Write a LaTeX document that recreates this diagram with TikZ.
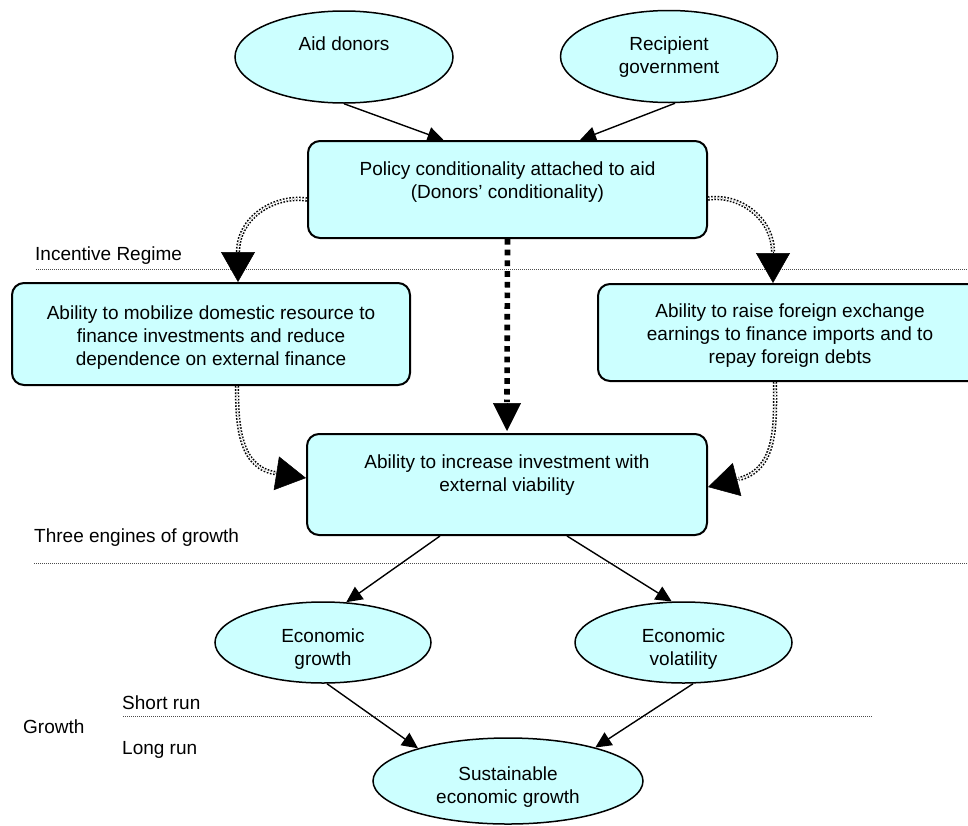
\documentclass[tikz,border=0pt]{standalone}
\usepackage{fontspec}
\setmainfont{Liberation Sans}
\usetikzlibrary{shapes.geometric,arrows.meta}
\definecolor{boxfill}{HTML}{CCFFFF}
\newcommand\liftx[2]{\raisebox{#1}[\height][\depth]{\begin{tabular}{@{}c@{}}#2\end{tabular}}}
\begin{document}
\begin{tikzpicture}[x=1pt,y=-1pt,
  every node/.style={font=\fontsize{19}{23}\selectfont},
  rbox/.style={draw, line width=2pt, fill=boxfill, rounded corners=12pt, inner sep=0pt},
  ell/.style={ellipse, draw, line width=1.5pt, fill=boxfill, inner sep=0pt},
  lbl/.style={anchor=west, inner sep=0pt},
  sepline/.style={line width=1pt, dash pattern=on 1pt off 1pt, black!70},
  arr/.style={line width=1.4pt, -{Triangle[length=16pt,width=15pt]}},
  dbl/.style={line width=1.5pt, double=white, double distance=1.4pt, dash pattern=on 1.6pt off 1.6pt},
  bigtip/.style={line width=0.5pt, -{Triangle[length=30pt,width=34pt]}},
  thickdash/.style={line width=5.6pt, dash pattern=on 5.7pt off 5pt},
]
\useasboundingbox (0,0) rectangle (968,825);

% separator lines
\draw[sepline] (36,269) -- (968,269);
\draw[sepline] (34,563) -- (968,563);
\draw[sepline] (123,716) -- (872,716);

% labels
\node[lbl] (lincent) at (35,256) {Incentive Regime};
\node[lbl] (lthree) at (34,538) {Three engines of growth};
\node[lbl] (lshort) at (122,703) {Short run};
\node[lbl] (lgrowth) at (23,727) {Growth};
\node[lbl] (llong) at (122,750) {Long run};

% nodes
\node[ell, minimum width=218pt, minimum height=92pt] (aid) at (344,57) {\liftx{11pt}{Aid donors}};
\node[ell, minimum width=217pt, minimum height=92pt] (rec) at (669,56.5) {\liftx{-1pt}{Recipient\\government}};
\node[rbox, minimum width=399pt, minimum height=97pt] (policy) at (507.5,189.5)
  {\liftx{7pt}{Policy conditionality attached to aid\\(Donors’ conditionality)}};
\node[rbox, minimum width=398pt, minimum height=102pt] (leftbox) at (211,334)
  {\liftx{-4pt}{Ability to mobilize domestic resource to\\finance investments and reduce\\dependence on external finance}};
\node[rbox, minimum width=384pt, minimum height=97pt] (rightbox) at (790,332.5)
  {\liftx{-3.5pt}{Ability to raise foreign exchange\\earnings to finance imports and to\\repay foreign debts}};
\node[rbox, minimum width=400pt, minimum height=101pt] (midbox) at (507,484.5)
  {\liftx{9pt}{Ability to increase investment with\\external viability}};
\node[ell, minimum width=216pt, minimum height=81pt] (eg) at (323,642.5) {\liftx{-6.5pt}{Economic\\growth}};
\node[ell, minimum width=217pt, minimum height=81pt] (ev) at (683.5,642.5) {\liftx{-6.5pt}{Economic\\volatility}};
\node[ell, minimum width=270pt, minimum height=86pt] (sus) at (508,781) {\liftx{-6.5pt}{Sustainable\\economic growth}};

% top arrows
\draw[arr] (aid.south) -- ([xshift=-64pt]policy.north);
\draw[arr] ([xshift=6pt]rec.south) -- ([xshift=72.5pt]policy.north);

% curved double-dotted arrows
\coordinate (c1s) at ([yshift=-10pt]policy.west);
\coordinate (c1t) at ([xshift=27pt]leftbox.north);
\draw[dbl] (c1s) to[out=172,in=90] ([yshift=30pt]c1t);
\draw[bigtip] ([yshift=30pt]c1t) -- (c1t);

\coordinate (c2s) at ([yshift=-9pt]policy.east);
\coordinate (c2t) at ([xshift=-17pt]rightbox.north);
\draw[dbl] (c2s) to[out=8,in=90] ([yshift=31pt]c2t);
\draw[bigtip] ([yshift=31pt]c2t) -- (c2t);

\coordinate (c3s) at ([xshift=26pt]leftbox.south);
\coordinate (c3t) at ([yshift=6.5pt]midbox.west);
\draw[dbl] (c3s) to[out=-90,in=171] ([shift={(171:31pt)}]c3t);
\draw[bigtip] ([shift={(171:31pt)}]c3t) -- (c3t);

\coordinate (c4s) at ([xshift=-15pt]rightbox.south);
\coordinate (c4t) at ([yshift=-2.5pt]midbox.east);
\draw[dbl] (c4s) to[out=-90,in=14.5] ([shift={(14.5:32pt)}]c4t);
\draw[bigtip] ([shift={(14.5:32pt)}]c4t) -- (c4t);

% middle thick dashed arrow
\draw[thickdash] (policy.south) -- ([yshift=31pt]midbox.north);
\draw[line width=0.5pt, -{Triangle[length=28pt,width=28pt]}] ([yshift=30pt]midbox.north) -- ([yshift=2pt]midbox.north);

% lower arrows
\draw[arr] ([xshift=-67pt]midbox.south) -- (eg.60);
\draw[arr] ([xshift=60pt]midbox.south) -- (ev.106);
\draw[arr] ([xshift=4pt]eg.south) -- (sus.160);
\draw[arr] ([xshift=9.5pt]ev.south) -- (sus.21);
\end{tikzpicture}
\end{document}
